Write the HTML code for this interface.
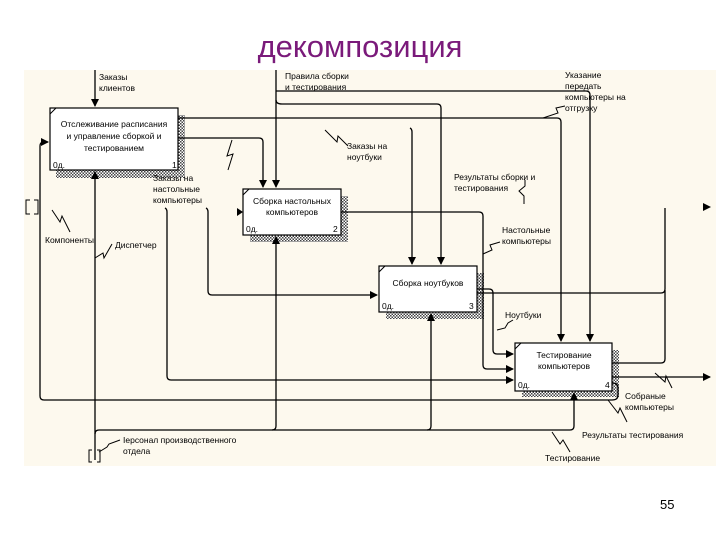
<!DOCTYPE html>
<html><head><meta charset="utf-8"><style>
html,body{margin:0;padding:0;background:#fff;}
body{width:720px;height:540px;position:relative;overflow:hidden;}
svg text{font-family:"Liberation Sans",sans-serif;}
</style></head><body>
<svg width="720" height="540" xmlns="http://www.w3.org/2000/svg">
<defs>
<pattern id="h" width="3" height="3" patternUnits="userSpaceOnUse"><rect width="3" height="3" fill="#fff"/><rect width="1.5" height="1.5" fill="#444"/><rect x="1.5" y="1.5" width="1.5" height="1.5" fill="#444"/></pattern>
<marker id="a" markerWidth="8" markerHeight="8" refX="7" refY="4" orient="auto" markerUnits="userSpaceOnUse"><path d="M0,0 L8,4 L0,8z" fill="#000"/></marker>
</defs>
<text x="360" y="57" font-size="31" fill="#7a1a7a" text-anchor="middle" style="font-family:'Liberation Sans',sans-serif">декомпозиция</text>
<rect x="24" y="70" width="692" height="396" fill="#fdf9ee"/>
<g fill="url(#h)">
<rect x="178" y="115" width="7" height="63"/><rect x="56" y="170" width="129" height="8"/>
<rect x="341" y="196" width="7" height="46"/><rect x="250" y="235" width="98" height="7"/>
<rect x="477" y="273" width="7" height="46"/><rect x="386" y="312" width="98" height="7"/>
<rect x="612" y="350" width="7" height="47"/><rect x="522" y="391" width="97" height="6"/>
</g>
<g fill="#fff" stroke="#000" stroke-width="1.2">
<rect x="50" y="108" width="128" height="62"/>
<rect x="243" y="189" width="98" height="46"/>
<rect x="379" y="266" width="98" height="46"/>
<rect x="515" y="343" width="97" height="48"/>
</g>
<g fill="none" stroke="#000" stroke-width="1.3">
<path d="M95,70 V106" marker-end="url(#a)"/>
<path d="M276,70 V187" marker-end="url(#a)"/>
<path d="M276,91 H586 Q590,91 590,95 V341" marker-end="url(#a)"/>
<path d="M276,100 Q276,104 282,104 H437 Q441,104 441,108 V264" marker-end="url(#a)"/>
<path d="M178,118 H557 Q561,118 561,122 V341" marker-end="url(#a)"/>
<path d="M178,138 H259 Q263,138 263,142 V187" marker-end="url(#a)"/>
<path d="M410,128 Q412,129 412,132 V264" marker-end="url(#a)"/>
<path d="M341,212 H479 Q483,212 483,216 V365 Q483,369 487,369 H513" marker-end="url(#a)"/>
<path d="M477,289 H489 Q493,289 493,293 V350 Q493,354 497,354 H513" marker-end="url(#a)"/>
<path d="M477,293 H661 Q665,293 665,289 V208"/>
<path d="M612,363 H661 Q665,363 665,359 V290"/>
<path d="M612,377 H710" marker-end="url(#a)"/>
<path d="M206,208 Q208,209 208,212 V291 Q208,295 212,295 H377" marker-end="url(#a)"/>
<path d="M165,208 Q167,209 167,212 V376 Q167,380 171,380 H513" marker-end="url(#a)"/>
<path d="M612,383 Q618,383 618,388 V395 Q618,400 612,400 H44 Q40,400 40,396 V146 Q40,142 44,142 H48" marker-end="url(#a)"/>
<path d="M95,460 V172" marker-end="url(#a)"/>
<path d="M95,434 Q95,430 99,430 H570 Q574,430 574,426 V393" marker-end="url(#a)"/>
<path d="M272,430 Q276,430 276,426 V237" marker-end="url(#a)"/>
<path d="M427,430 Q431,430 431,426 V314" marker-end="url(#a)"/>
<path d="M232,140 L227,156 L233,154 L228,170" stroke-width="1"/>
<path d="M325,130 L337,142 L338,136 L348,146" stroke-width="1"/>
<path d="M30,200 h-4 v14 h4 M34,200 h4 v14 h-4" stroke-width="1"/>
<path d="M52,210 L60,222 L62,216 L70,232" stroke-width="1"/>
<path d="M95,258 L103,253 L104,258 L112,244" stroke-width="1"/>
<path d="M543,118 L558,113 L556,108 L565,106" stroke-width="1"/>
<path d="M525,180 L525,186 L519,191 L524,196 L524,204" stroke-width="1"/>
<path d="M483,254 L492,250 L490,245 L500,242" stroke-width="1"/>
<path d="M497,330 L505,328 L508,323 L513,320" stroke-width="1"/>
<path d="M655,373 L665,382 L666,376 L672,388" stroke-width="1"/>
<path d="M608,400 L618,413 L620,408 L627,422" stroke-width="1"/>
<path d="M552,432 L560,444 L563,440 L570,452" stroke-width="1"/>
<path d="M99,452 L107,447 L109,444 L120,440" stroke-width="1"/>
<path d="M92,450 h-3 v12 h3 M97,450 h3 v12 h-3" stroke-width="1"/>
<path d="M50,114 L56,108 M243,195 L249,189 M379,272 L385,266 M515,349 L521,343" stroke-width="1"/>
</g>
<path d="M703,203 L711,207 L703,211z M237,208 L243,212 L237,216z"/>
<g font-size="8.5" fill="#000">
<text x="99" y="80">Заказы</text><text x="99" y="91">клиентов</text>
<text x="285" y="79">Правила сборки</text><text x="285" y="90">и тестирования</text>
<text x="565" y="78">Указание</text><text x="565" y="89">передать</text><text x="565" y="100">компьютеры на</text><text x="565" y="111">отгрузку</text>
<text x="347" y="149">Заказы на</text><text x="347" y="160">ноутбуки</text>
<text x="153" y="181">Заказы на</text><text x="153" y="192">настольные</text><text x="153" y="203">компьютеры</text>
<text x="454" y="180">Результаты сборки и</text><text x="454" y="191">тестирования</text>
<text x="502" y="233">Настольные</text><text x="502" y="244">компьютеры</text>
<text x="45" y="243">Компоненты</text><text x="115" y="248">Диспетчер</text>
<text x="505" y="318">Ноутбуки</text>
<text x="625" y="399">Собраные</text><text x="625" y="410">компьютеры</text>
<text x="582" y="438">Результаты тестирования</text>
<text x="545" y="461">Тестирование</text>
<text x="123" y="443">Iерсонал производственного</text><text x="123" y="454">отдела</text>
<g text-anchor="middle">
<text x="114" y="127">Отслеживание расписания</text><text x="114" y="139">и управление сборкой и</text><text x="114" y="151">тестированием</text>
<text x="292" y="204">Сборка настольных</text><text x="292" y="215">компьютеров</text>
<text x="428" y="286">Сборка ноутбуков</text>
<text x="564" y="358">Тестирование</text><text x="564" y="369">компьютеров</text>
</g>
<text x="53" y="168">0д.</text><text x="172" y="168">1</text>
<text x="246" y="232">0д.</text><text x="333" y="232">2</text>
<text x="382" y="309">0д.</text><text x="469" y="309">3</text>
<text x="518" y="388">0д.</text><text x="605" y="388">4</text>
</g>
<text x="660" y="509" font-size="13">55</text>
</svg>
</body></html>
